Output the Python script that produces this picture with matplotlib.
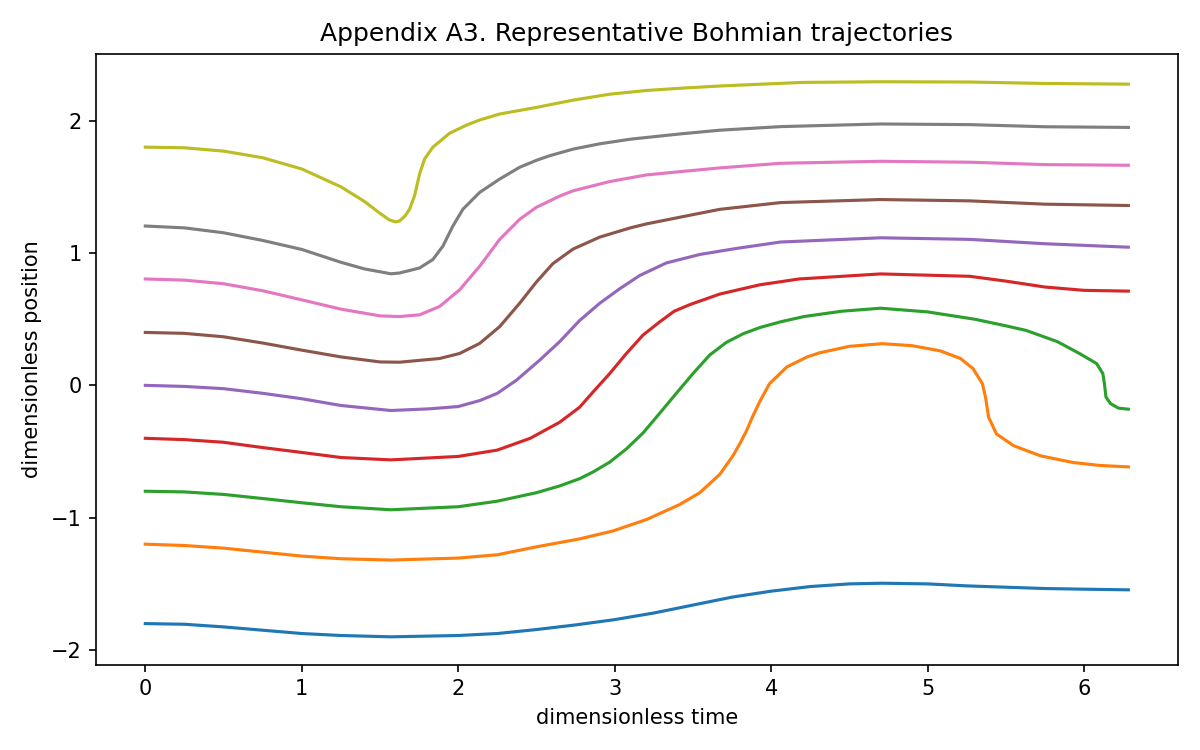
import matplotlib
matplotlib.use("Agg")
import matplotlib.pyplot as plt

# trajectories, one (time, position) pair of lists each
t0 = [0, 0.25, 0.5, 0.75, 1.0, 1.25, 1.57, 2.0, 2.25, 2.5, 2.75, 3.0, 3.25, 3.5, 3.75,
      4.0, 4.25, 4.5, 4.71, 5.0, 5.25, 5.5, 5.75, 6.0, 6.283]
x0 = [-1.80, -1.805, -1.825, -1.85, -1.875, -1.89, -1.90, -1.89, -1.875, -1.845, -1.81,
      -1.77, -1.72, -1.66, -1.60, -1.555, -1.52, -1.50, -1.495, -1.50, -1.515, -1.525,
      -1.535, -1.54, -1.545]

t1 = [0, 0.25, 0.5, 0.75, 1.0, 1.25, 1.57, 2.0, 2.25, 2.5, 2.776, 2.989, 3.203, 3.416,
      3.544, 3.672, 3.757, 3.80, 3.843, 3.88, 3.928, 3.99, 4.10, 4.23, 4.31, 4.5, 4.71,
      4.9, 5.08, 5.21, 5.29, 5.35, 5.37, 5.39, 5.44, 5.55, 5.72, 5.93, 6.1, 6.283]
x1 = [-1.20, -1.21, -1.23, -1.26, -1.29, -1.31, -1.32, -1.305, -1.28, -1.22, -1.16,
      -1.10, -1.014, -0.90, -0.811, -0.672, -0.53, -0.44, -0.342, -0.24, -0.12, 0.013,
      0.139, 0.215, 0.246, 0.295, 0.315, 0.30, 0.261, 0.203, 0.127, 0.013, -0.089,
      -0.241, -0.367, -0.456, -0.532, -0.583, -0.605, -0.616]

t2 = [0, 0.25, 0.5, 0.75, 1.0, 1.25, 1.57, 2.0, 2.25, 2.5, 2.648, 2.776, 2.861, 2.968,
      3.075, 3.181, 3.288, 3.394, 3.501, 3.608, 3.714, 3.821, 3.928, 4.06, 4.21, 4.45,
      4.7, 5.0, 5.3, 5.5, 5.63, 5.83, 5.97, 6.08, 6.12, 6.13, 6.14, 6.17, 6.22, 6.283]
x2 = [-0.80, -0.805, -0.824, -0.855, -0.887, -0.917, -0.94, -0.917, -0.875, -0.811,
      -0.76, -0.705, -0.655, -0.58, -0.48, -0.36, -0.21, -0.06, 0.09, 0.23, 0.325,
      0.39, 0.437, 0.48, 0.52, 0.56, 0.583, 0.555, 0.50, 0.45, 0.415, 0.33, 0.241,
      0.165, 0.089, 0.013, -0.089, -0.139, -0.172, -0.18]

t3 = [0, 0.25, 0.5, 0.75, 1.0, 1.25, 1.57, 2.0, 2.25, 2.46, 2.648, 2.776, 2.861, 2.968,
      3.075, 3.181, 3.288, 3.38, 3.48, 3.672, 3.928, 4.18, 4.7, 5.27, 5.51, 5.75, 6.0,
      6.283]
x3 = [-0.40, -0.41, -0.43, -0.47, -0.507, -0.545, -0.563, -0.537, -0.489, -0.40, -0.279,
      -0.165, -0.051, 0.089, 0.241, 0.38, 0.48, 0.56, 0.61, 0.69, 0.76, 0.804, 0.842,
      0.824, 0.786, 0.743, 0.718, 0.712]

t4 = [0, 0.25, 0.5, 0.75, 1.0, 1.25, 1.57, 1.82, 2.0, 2.14, 2.25, 2.371, 2.52, 2.648,
      2.776, 2.904, 3.032, 3.16, 3.33, 3.544, 3.78, 4.06, 4.7, 5.27, 5.75, 6.283]
x4 = [0.0, -0.008, -0.025, -0.06, -0.101, -0.152, -0.19, -0.177, -0.16, -0.114, -0.06,
      0.038, 0.19, 0.33, 0.49, 0.62, 0.73, 0.83, 0.925, 0.989, 1.035, 1.083, 1.115,
      1.103, 1.07, 1.044]

t5 = [0, 0.25, 0.5, 0.75, 1.0, 1.25, 1.5, 1.625, 1.881, 2.009, 2.137, 2.265, 2.393,
      2.499, 2.605, 2.734, 2.904, 3.1, 3.203, 3.5, 3.672, 4.06, 4.7, 5.27, 5.75, 6.283]
x5 = [0.40, 0.393, 0.367, 0.32, 0.266, 0.215, 0.177, 0.175, 0.203, 0.241, 0.317, 0.444,
      0.621, 0.78, 0.92, 1.03, 1.12, 1.19, 1.22, 1.29, 1.33, 1.381, 1.404, 1.394,
      1.369, 1.359]

t6 = [0, 0.25, 0.5, 0.75, 1.0, 1.25, 1.5, 1.625, 1.753, 1.881, 2.009, 2.137, 2.265,
      2.393, 2.499, 2.648, 2.734, 2.968, 3.203, 3.42, 3.672, 4.06, 4.7, 5.27, 5.75, 6.283]
x6 = [0.804, 0.795, 0.768, 0.715, 0.646, 0.576, 0.525, 0.52, 0.533, 0.596, 0.722, 0.90,
      1.103, 1.255, 1.345, 1.43, 1.47, 1.54, 1.59, 1.615, 1.643, 1.678, 1.693, 1.686,
      1.668, 1.663]

t7 = [0, 0.25, 0.5, 0.75, 1.0, 1.25, 1.4, 1.57, 1.625, 1.753, 1.838, 1.902, 1.966, 2.03,
      2.137, 2.265, 2.393, 2.499, 2.584, 2.734, 2.904, 3.1, 3.42, 3.672, 4.06, 4.7, 5.27,
      5.75, 6.283]
x7 = [1.204, 1.19, 1.153, 1.095, 1.027, 0.93, 0.88, 0.843, 0.849, 0.887, 0.951, 1.052,
      1.204, 1.331, 1.458, 1.559, 1.648, 1.70, 1.735, 1.785, 1.825, 1.86, 1.90, 1.928,
      1.955, 1.975, 1.97, 1.954, 1.949]

t8 = [0, 0.25, 0.5, 0.75, 1.0, 1.25, 1.4, 1.5, 1.56, 1.60, 1.625, 1.66, 1.689, 1.721,
      1.753, 1.785, 1.838, 1.945, 2.052, 2.137, 2.264, 2.499, 2.734, 2.968, 3.203, 3.42,
      3.672, 4.2, 4.7, 5.27, 5.75, 6.283]
x8 = [1.80, 1.795, 1.77, 1.72, 1.635, 1.50, 1.39, 1.30, 1.25, 1.235, 1.242, 1.28, 1.331,
      1.433, 1.597, 1.711, 1.80, 1.905, 1.966, 2.005, 2.05, 2.10, 2.155, 2.20, 2.228,
      2.245, 2.262, 2.289, 2.294, 2.292, 2.281, 2.276]

times = [t0, t1, t2, t3, t4, t5, t6, t7, t8]
positions = [x0, x1, x2, x3, x4, x5, x6, x7, x8]

fig = plt.figure(figsize=(8, 5), dpi=150)
ax = fig.add_subplot(111)
for t, x in zip(times, positions):
    ax.plot(t, x)

plt.xlabel('dimensionless time')
plt.ylabel('dimensionless position')
plt.title('Appendix A3. Representative Bohmian trajectories')
plt.tight_layout()
plt.savefig('out.png')
